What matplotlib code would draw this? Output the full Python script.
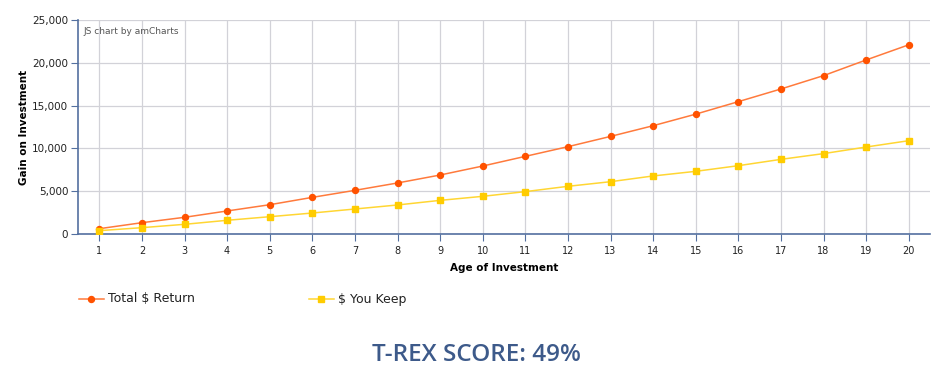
import matplotlib
matplotlib.use("Agg")
import matplotlib.pyplot as plt
from matplotlib.lines import Line2D

years = list(range(1, 21))
total_return = [620, 1320, 1950, 2690, 3420, 4280, 5100, 5960, 6890, 7940,
                9070, 10200, 11400, 12650, 14000, 15460, 16940, 18500, 20330, 22100]
you_keep = [390, 740, 1130, 1600, 2020, 2450, 2920, 3390, 3930, 4400,
            4950, 5570, 6110, 6780, 7320, 7980, 8720, 9390, 10160, 10900]
y_ticks = [0, 5000, 10000, 15000, 20000, 25000]
series_names = ["Total $ Return", "$ You Keep"]

W, H = 953, 377
fig = plt.figure(figsize=(W / 100, H / 100), dpi=100)
ax = fig.add_axes([78 / W, 1 - 234 / H, (930 - 78) / W, (234 - 20) / H])

axis_color = "#5470a0"
grid_color = "#d2d2d8"

ax.plot(years, total_return, color="#ff7a3c", lw=1.1, marker="o", ms=4.3,
        mfc="#ff5200", mec="#ff5200", zorder=3)
ax.plot(years, you_keep, color="#ffd633", lw=1.1, marker="s", ms=4.3,
        mfc="#ffcc00", mec="#ffcc00", zorder=3)

ax.set_xlim(0.5, 20.5)
ax.set_ylim(0, 25000)
ax.set_xticks(years)
ax.set_xticklabels([str(y) for y in years], fontsize=7, color="#222222")
ax.set_yticks(y_ticks)
ax.set_yticklabels([f"{v:,}" for v in y_ticks], fontsize=7.5, color="#222222")
ax.grid(True, color=grid_color, lw=0.9)
ax.set_axisbelow(True)
for s in ["top", "right"]:
    ax.spines[s].set_visible(False)
for s in ["left", "bottom"]:
    ax.spines[s].set_color(axis_color)
    ax.spines[s].set_linewidth(1.2)
ax.tick_params(axis="x", length=5, color=axis_color, pad=4)
ax.tick_params(axis="y", length=5, color=axis_color, pad=2)

ax.set_ylabel("Gain on Investment", fontsize=7.5, fontweight="bold", labelpad=2)
ax.set_xlabel("Age of Investment", fontsize=7.5, fontweight="bold", labelpad=5)

fig.text(83 / W, 1 - 31 / H, "JS chart by amCharts", fontsize=6.5, color="#555555",
         va="center", ha="left")

# Legend
legend_y = 1 - 299 / H
leg_items = [
    (79, "#ff7a3c", "o", "#ff5200", series_names[0]),
    (309, "#ffd633", "s", "#ffcc00", series_names[1]),
]
for x0, lc, mk, mc, name in leg_items:
    fig.add_artist(Line2D([x0 / W, (x0 + 25) / W], [legend_y, legend_y],
                          color=lc, lw=1.1, transform=fig.transFigure))
    fig.add_artist(Line2D([(x0 + 12.5) / W], [legend_y], marker=mk, ms=4.3,
                          mfc=mc, mec=mc, transform=fig.transFigure))
    fig.text((x0 + 29) / W, legend_y, name, fontsize=9, color="#222222",
             va="center", ha="left")

fig.text(476 / W, 1 - 355 / H, "T-REX SCORE: 49%", fontsize=17.5, color="#3d5a8a",
         fontfamily="Open Sans", fontweight="semibold", ha="center", va="center")

fig.savefig("out.png", dpi=100)
